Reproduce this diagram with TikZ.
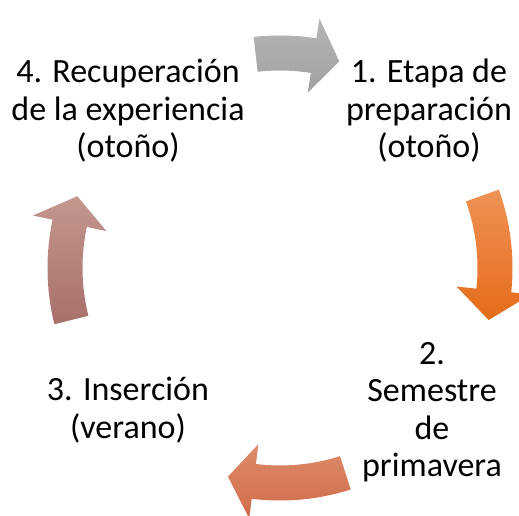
\documentclass[tikz,border=0pt]{standalone}
\usepackage{fontspec}
\setmainfont{Carlito}
\usetikzlibrary{calc}
\def\cyclearrow[#1](#2:#3:#4){\shade[#1] (#2:232.5pt) arc (#2:#3:232.5pt) -- (#3:252.5pt) -- (#4:215pt) -- (#3:177.5pt) -- (#3:197.5pt) arc (#3:#2:197.5pt) -- cycle;}

\begin{document}
\begin{tikzpicture}[x=1pt, y=1pt,
	stage/.style={align=center, inner sep=0pt, font=\fontsize{34}{37.5}\selectfont}]
			%%%%% START %%%%%
			
			\useasboundingbox (0, 0) rectangle (519, 516);
			
			\node[stage] (prep) at (429, 405) {1. Etapa de\\preparación\\(otoño)};
			\node[stage] (sem) at (432, 104) {2.\\Semestre\\de\\primavera};
			\node[stage] (ins) at (128, 106) {3. Inserción\\(verano)};
			\node[stage] (rec) at (128, 405) {4. Recuperación\\de la experiencia\\(otoño)};
			
			\begin{scope}[shift={(280, 248)}]
			\cyclearrow[top color={rgb,255:red,182;green,182;blue,182}, bottom color={rgb,255:red,160;green,160;blue,160}](96.5:81:74)
			\cyclearrow[top color={rgb,255:red,240;green,145;blue,85}, bottom color={rgb,255:red,228;green,108;blue,25}](19.7:-6:-14)
			\cyclearrow[top color={rgb,255:red,220;green,140;blue,108}, bottom color={rgb,255:red,208;green,106;blue,72}](-72.3:-97:-104)
			\cyclearrow[top color={rgb,255:red,196;green,151;blue,143}, bottom color={rgb,255:red,168;green,112;blue,106}](194:168:160.5)
			\end{scope}
			
			%%%%% END %%%%%
\end{tikzpicture}
\end{document}
